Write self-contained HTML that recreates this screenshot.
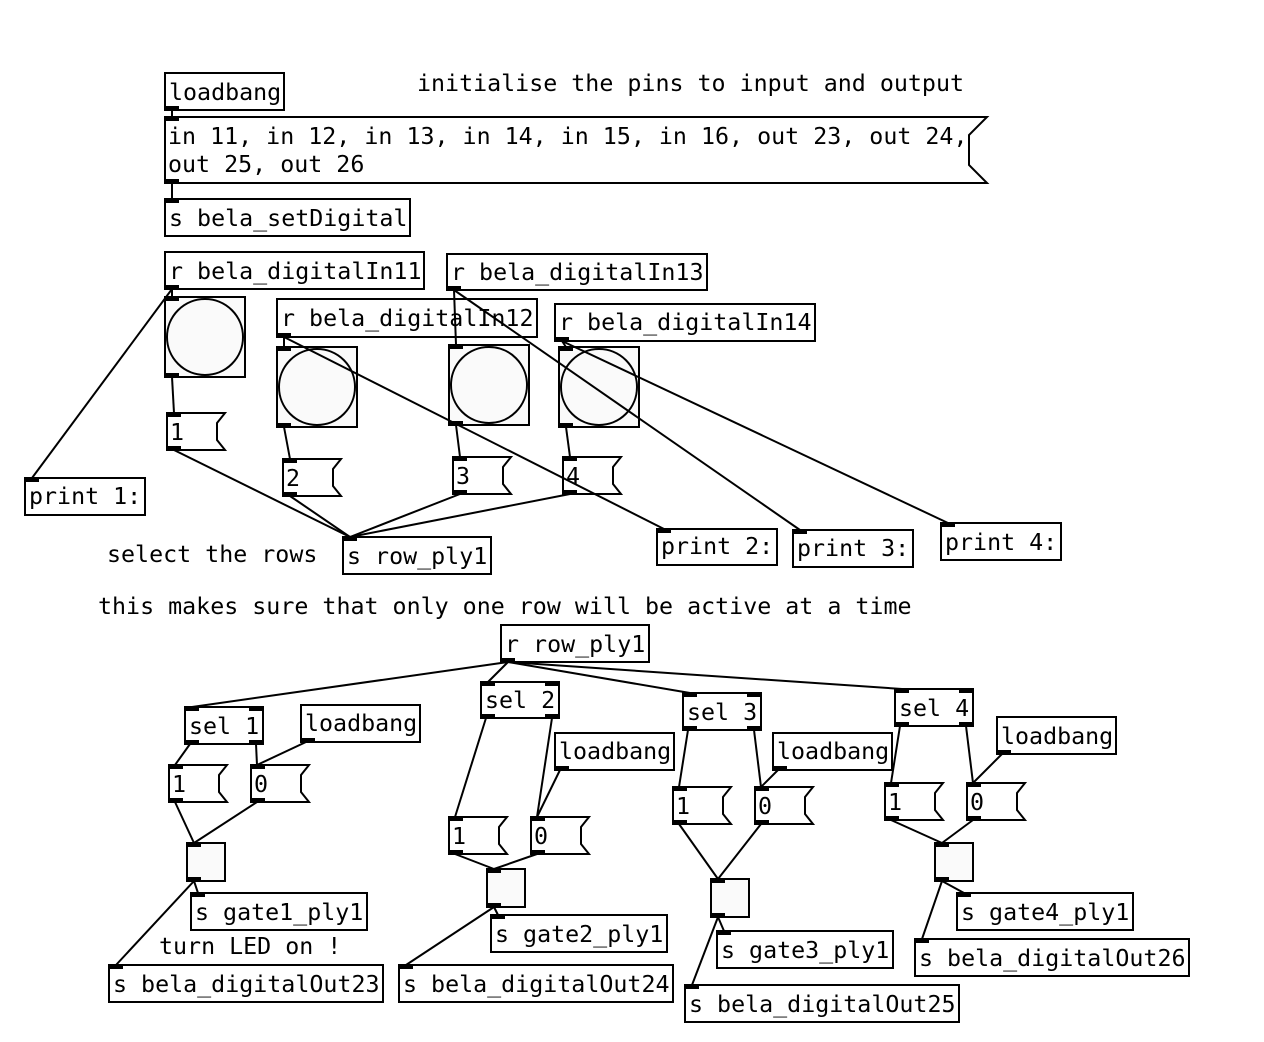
<!DOCTYPE html>
<html><head><meta charset="utf-8"><style>
html,body{margin:0;padding:0;background:#fff;width:1264px;height:1042px;overflow:hidden}
svg text{font-family:"DejaVu Sans Mono","Liberation Mono",monospace;font-size:23.3px;fill:#000}
</style></head><body>
<svg id="s" width="1264" height="1042" xmlns="http://www.w3.org/2000/svg">
<g id="boxes" stroke="#000" stroke-width="2" fill="#fff"></g>
<g id="ports" fill="#000"></g>
<g id="txt">
<text x="417" y="91">initialise the pins to input and output</text>
<text x="169" y="100">loadbang</text>
<text x="168" y="144">in 11, in 12, in 13, in 14, in 15, in 16, out 23, out 24,</text>
<text x="168" y="172">out 25, out 26</text>
<text x="169" y="226">s bela_setDigital</text>
<text x="169" y="279">r bela_digitalIn11</text>
<text x="451" y="280">r bela_digitalIn13</text>
<text x="281" y="326">r bela_digitalIn12</text>
<text x="559" y="330">r bela_digitalIn14</text>
<text x="170" y="440">1</text>
<text x="286" y="486">2</text>
<text x="456" y="484">3</text>
<text x="566" y="484">4</text>
<text x="29" y="504">print 1:</text>
<text x="107" y="562">select the rows</text>
<text x="347" y="564">s row_ply1</text>
<text x="661" y="554">print 2:</text>
<text x="797" y="556">print 3:</text>
<text x="945" y="550">print 4:</text>
<text x="98" y="614">this makes sure that only one row will be active at a time</text>
<text x="505" y="652">r row_ply1</text>
<text x="189" y="734">sel 1</text>
<text x="305" y="731">loadbang</text>
<text x="172" y="792">1</text>
<text x="254" y="792">0</text>
<text x="195" y="920">s gate1_ply1</text>
<text x="159" y="954">turn LED on !</text>
<text x="113" y="992">s bela_digitalOut23</text>
<text x="485" y="708">sel 2</text>
<text x="559" y="759">loadbang</text>
<text x="452" y="844">1</text>
<text x="534" y="844">0</text>
<text x="495" y="942">s gate2_ply1</text>
<text x="403" y="992">s bela_digitalOut24</text>
<text x="687" y="720">sel 3</text>
<text x="777" y="759">loadbang</text>
<text x="676" y="814">1</text>
<text x="758" y="814">0</text>
<text x="721" y="958">s gate3_ply1</text>
<text x="689" y="1012">s bela_digitalOut25</text>
<text x="899" y="716">sel 4</text>
<text x="1001" y="744">loadbang</text>
<text x="888" y="810">1</text>
<text x="970" y="810">0</text>
<text x="961" y="920">s gate4_ply1</text>
<text x="919" y="966">s bela_digitalOut26</text>
</g>
<g id="lines" stroke="#000" stroke-width="2" fill="none"></g>
</svg>
<script>
var NS="http://www.w3.org/2000/svg";
function el(p,t,a){var e=document.createElementNS(NS,t);for(var k in a)e.setAttribute(k,a[k]);document.getElementById(p).appendChild(e);return e;}
function port(x,y){el("ports","rect",{x:x,y:y,width:14,height:4});}
function obj(x1,y1,x2,y2,ni,no){el("boxes","rect",{x:x1,y:y1,width:x2-x1,height:y2-y1});
 if(ni>=1)port(x1,y1);if(ni>=2)port(x2-14,y1);
 if(no>=1)port(x1,y2-4);if(no>=2)port(x2-14,y2-4);}
function msg(x1,y1,x2,y2){el("boxes","path",{d:"M"+x1+","+y1+"H"+x2+"L"+(x2-18)+","+(y1+18)+"V"+(y2-18)+"L"+x2+","+y2+"H"+x1+"Z"});
 port(x1,y1);port(x1,y2-4);}
function msgs(x1,y1){var x2=x1+58,y2=y1+37;el("boxes","path",{d:"M"+x1+","+y1+"H"+x2+"L"+(x2-8)+","+(y1+10)+"V"+(y2-10)+"L"+x2+","+y2+"H"+x1+"Z"});port(x1,y1);port(x1,y2-4);}
function bng(x,y){el("boxes","rect",{x:x,y:y,width:80,height:80,fill:"#fafafa"});el("boxes","circle",{cx:x+40,cy:y+40,r:38,fill:"#fafafa"});port(x,y);port(x,y+76);}
function tgl(x,y){el("boxes","rect",{x:x,y:y,width:38,height:38,fill:"#fafafa"});port(x,y);port(x,y+34);}
function L(a,b,c,d){el("lines","line",{x1:a,y1:b,x2:c,y2:d});}
obj(165,73,284,110,0,1);
msg(165,117,987,183);
obj(165,199,410,236,1,0);
obj(165,252,424,289,0,1);
obj(447,254,707,290,0,1);
obj(277,299,537,337,0,1);
obj(555,304,815,341,0,1);
bng(165,297);bng(277,347);bng(449,345);bng(559,347);
msgs(167,413);msgs(283,459);msgs(453,457);msgs(563,457);
obj(25,478,145,515,1,0);
obj(343,537,491,574,1,0);
obj(657,529,777,565,1,0);
obj(793,530,913,567,1,0);
obj(941,523,1061,560,1,0);
obj(501,625,649,662,0,1);
obj(185,707,263,744,2,2);obj(301,705,420,742,0,1);msgs(169,765);msgs(251,765);tgl(187,843);obj(191,893,367,930,1,0);obj(109,965,383,1002,1,0);
obj(481,682,559,718,2,2);obj(555,733,674,770,0,1);msgs(449,817);msgs(531,817);tgl(487,869);obj(491,915,667,952,1,0);obj(399,965,673,1002,1,0);
obj(683,693,761,730,2,2);obj(773,733,892,770,0,1);msgs(673,787);msgs(755,787);tgl(711,879);obj(717,931,893,968,1,0);obj(685,985,959,1022,1,0);
obj(895,689,973,726,2,2);obj(997,717,1116,754,0,1);msgs(885,783);msgs(967,783);tgl(935,843);obj(957,893,1133,930,1,0);obj(915,939,1189,976,1,0);
L(172,110,172,117);L(172,183,172,199);
L(172,289,172,297);L(172,289,32,478);L(172,377,174,413);
L(284,337,284,347);L(284,337,664,529);L(284,427,290,459);
L(454,290,456,345);L(454,290,800,530);L(456,425,460,457);
L(562,341,566,347);L(562,341,948,523);L(566,427,570,457);
L(174,450,350,537);L(290,496,350,537);L(460,494,350,537);L(570,494,350,537);
L(508,662,192,707);L(508,662,488,682);L(508,662,690,693);L(508,662,902,689);
function grp(s,lb,m1,m0,t,g,o){L(s[0]+5,s[1],m1[0]+6,m1[1]);L(s[2]-7,s[1],m0[0]+6,m0[1]);L(lb[0]+5,lb[1],m0[0]+6,m0[1]);
 L(m1[0]+6,m1[1]+37,t[0]+7,t[1]);L(m0[0]+6,m0[1]+37,t[0]+7,t[1]);L(t[0]+7,t[1]+38,g[0]+7,g[1]);L(t[0]+7,t[1]+38,o[0]+7,o[1]);}
grp([185,744,263],[301,742],[169,765],[251,765],[187,843],[191,893],[109,965]);
grp([481,718,559],[555,770],[449,817],[531,817],[487,869],[491,915],[399,965]);
grp([683,730,761],[773,770],[673,787],[755,787],[711,879],[717,931],[685,985]);
grp([895,726,973],[997,754],[885,783],[967,783],[935,843],[957,893],[915,939]);
</script>
</body></html>
